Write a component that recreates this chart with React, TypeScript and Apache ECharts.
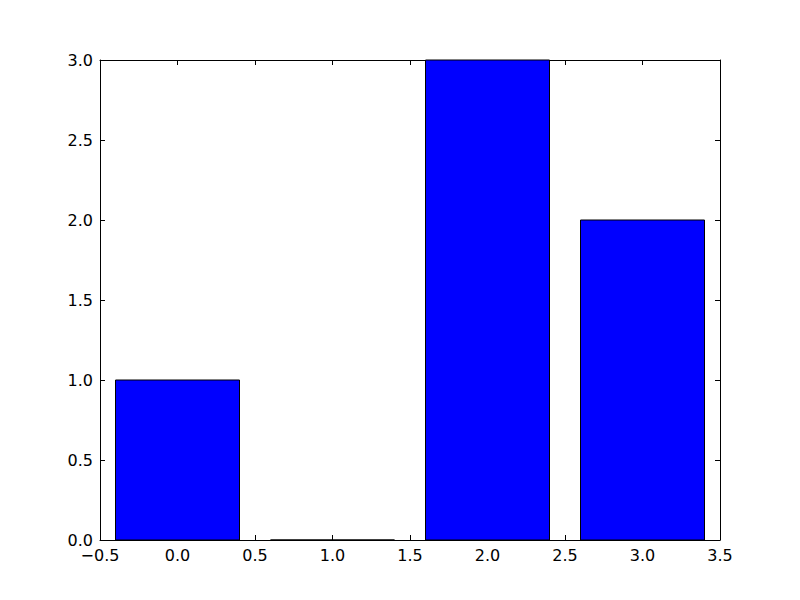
import { useEffect, useRef } from 'react'
import * as echarts from 'echarts'

const xPositions = [0, 1, 2, 3]
const barValues = [1, 0, 3, 2]
const barWidth = 0.8

const fmt = (v: number) => v.toFixed(1).replace('-', '\u2212')

function App() {
  const chartRef = useRef<HTMLDivElement>(null)

  useEffect(() => {
    if (!chartRef.current) return
    const chart = echarts.init(chartRef.current, undefined, { renderer: 'svg' })

    const axisLine = { show: true, onZero: false, lineStyle: { color: '#000', width: 1 } }
    const axisTick = { show: true, inside: true, length: 5, lineStyle: { color: '#000' } }
    const axisLabel = {
      color: '#000',
      fontSize: 16,
      lineHeight: 12,
      fontFamily: 'DejaVu Sans',
      formatter: fmt,
    }

    chart.setOption({
      animation: false,
      backgroundColor: '#fff',
      grid: { left: 100, right: 80, top: 60, bottom: 60 },
      xAxis: [
        {
          type: 'value',
          min: -0.5,
          max: 3.5,
          interval: 0.5,
          position: 'bottom',
          axisLine,
          axisTick,
          axisLabel: { ...axisLabel, margin: 9 },
          splitLine: { show: false },
        },
        {
          type: 'value',
          min: -0.5,
          max: 3.5,
          interval: 0.5,
          position: 'top',
          axisLine,
          axisTick,
          axisLabel: { show: false },
          splitLine: { show: false },
        },
      ],
      yAxis: [
        {
          type: 'value',
          min: 0,
          max: 3,
          interval: 0.5,
          position: 'left',
          axisLine,
          axisTick,
          axisLabel: { ...axisLabel, margin: 7 },
          splitLine: { show: false },
        },
        {
          type: 'value',
          min: 0,
          max: 3,
          interval: 0.5,
          position: 'right',
          axisLine,
          axisTick,
          axisLabel: { show: false },
          splitLine: { show: false },
        },
      ],
      series: [
        {
          type: 'custom',
          xAxisIndex: 0,
          yAxisIndex: 0,
          data: xPositions.map((x, i) => [x, barValues[i]]),
          renderItem: (_params: any, api: any) => {
            const x = api.value(0)
            const y = api.value(1)
            const p0 = api.coord([x - barWidth / 2, y])
            const p1 = api.coord([x + barWidth / 2, 0])
            return {
              type: 'rect',
              shape: { x: p0[0], y: p0[1], width: p1[0] - p0[0], height: p1[1] - p0[1] },
              style: { fill: '#0000ff', stroke: '#000', lineWidth: 1 },
            }
          },
          z: 1,
        },
      ],
    })

    return () => chart.dispose()
  }, [])

  return (
    <div
      ref={chartRef}
      style={{ position: 'absolute', left: 0, top: 0, width: 800, height: 600 }}
    />
  )
}

export default App
